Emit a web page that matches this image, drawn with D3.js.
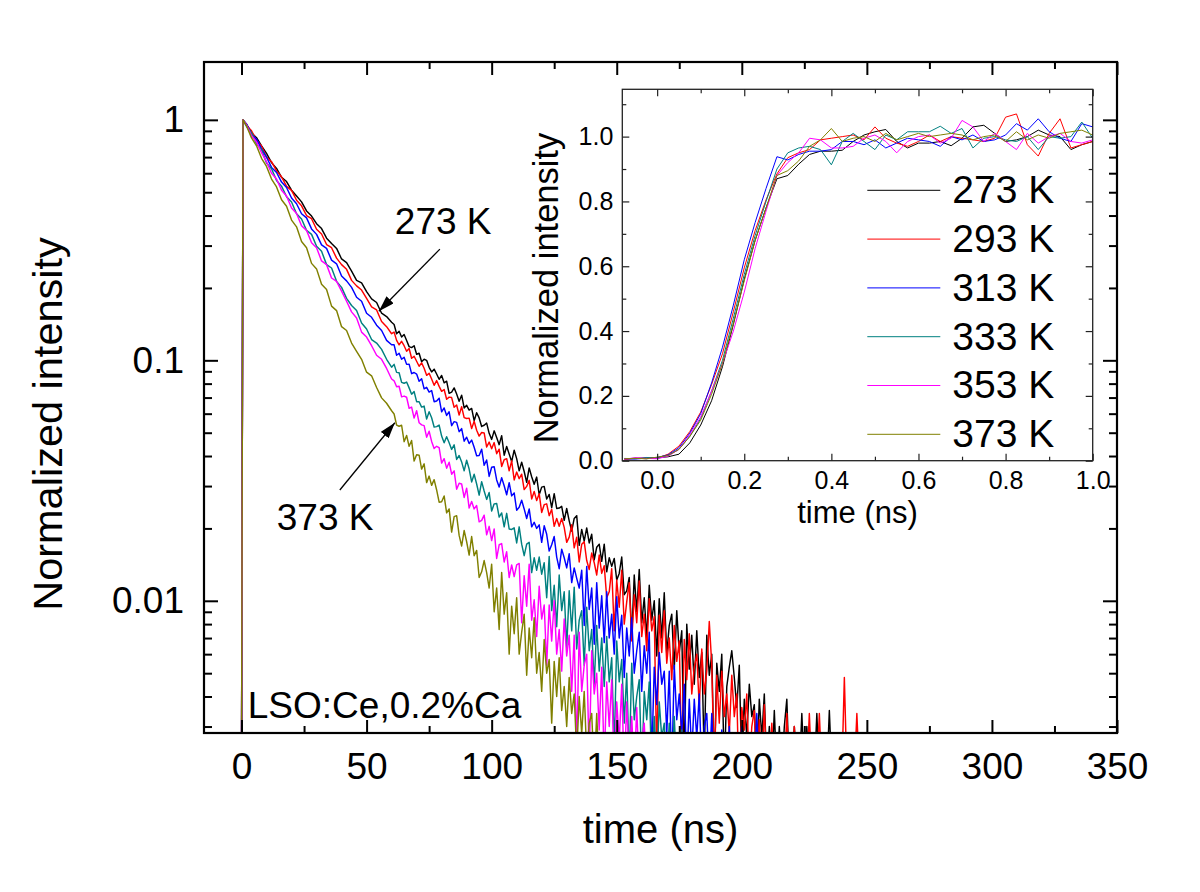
<!DOCTYPE html>
<html><head><meta charset="utf-8">
<script src="https://cdn.jsdelivr.net/npm/d3@7"></script>
<style>body{margin:0;background:#fff}svg{display:block}</style>
</head><body><svg id="c" width="1200" height="892"></svg>
<script>
// ---------------- DATA ----------------
const seriesNames = ["273 K","293 K","313 K","333 K","353 K","373 K"];
const seriesColors = ["#000000","#ff0000","#0000ff","#008080","#ff00ff","#808000"];

// main decay, time axis (ns)
const tMain = [0,0.6,2,4,6,8,10,12,14,16,18,20,22,24,26,28,30,32,34,36,38,40,42,44,46,48,50,52,54,56,58,60,
61,62,63,64,65,66,67,68,69,70, 71,72,73,74,75,76,77,78,79,80, 81,82,83,84,85,86,87,88,89,90,
91,92,93,94,95,96,97,98,99,100, 101,102,103,104,105,106,107,108,109,110, 111,112,113,114,115,116,117,118,119,120,
121,122,123,124,125,126,127,128,129,130, 131,132,133,134,135,136,137,138,139,140, 141,142,143,144,145,146,147,148,149,150,
151,152,153,154,155,156,157,158,159,160, 161,162,163,164,165,166,167,168,169,170, 171,172,173,174,175,176,177,178,179,180,
181,182,183,184,185,186,187,188,189,190, 191,192,193,194,195,196,197,198,199,200, 201,202,203,204,205,206,207,208,209,210,
211,212,213,214,215,216,217,218,219,220, 221,222,223,224,225,226,227,228,229,230, 231,232,233,234,235,236,237,238,239,240,
241,242,243,244,245,246,247];

const k273 = [0,1.0,.959,.882,.843,.780,.725,.664,.628,.577,.554,.510,.482,.456,.418,.398,.370,.353,.322,.306,.292,
.264,.255,.235,.215,.210,.193,.180,.174,.157,.152,.144,
.141,.129,.132,.125,.128,.121,.114,.113,.115,.106,
.107,.0987,.101,.100,.0935,.0895,.0919,.0877,.0834,.0865,
.0806,.0819,.0729,.0738,.0768,.0724,.0676,.0716,.0634,.0650,
.0621,.0631,.0561,.0605,.0576,.0531,.0537,.0548,.0497,.0469,
.0509,.0478,.0446,.0486,.0403,.0438,.0408,.0379,.0423,.0390,
.0347,.0377,.0345,.0311,.0357,.0328,.0305,.0327,.0276,.0297,
.0299,.0265,.0277,.0244,.0279,.0242,.0243,.0247,.0216,.0242,
.0215,.0195,.0220,.0226,.0170,.0198,.0177,.0201,.0174,.0189,
.0148,.0167,.0172,.0146,.0172,.0132,.0151,.0139,.0150,.0122,
.0130,.0152,.0106,.0110,.0125,.0070,.0128,.0090,.0135,.0081,
.0103,.0070,.0116,.0083,.0100,.0059,.0102,.0070,.0108,.0060,
.0079,.0088,.0052,.0091,.0061,.0075,.0021,.0080,.0052,.0072,
.0045,.0075,.0048,.0061,.0022,.0072,.0049,.0060,.0019,.0055,
.0042,.0060,0,.0044,.0053,.0062,.0048,.0036,.0054,.0020,
.0039,.0027,.0045,.0033,.0037,0,.0039,.0027,.0041,0,
.0030,0,.0035,0,.0030,0,.0030,.0039,0,0,
.0030,0,0,.0034,0,.0030,0,0,0,.0034,
0,0,0,0,.0035,0,0,0,0,0];

const k293 = [0,1.0,.947,.900,.822,.779,.700,.670,.613,.580,.529,.509,.463,.439,.400,.388,.351,.335,.303,.294,.266,
.250,.239,.215,.204,.196,.181,.167,.162,.145,.138,.129,
.131,.121,.116,.120,.115,.109,.112,.102,.104,.0991,
.0945,.0976,.0927,.0866,.0884,.0836,.0787,.0824,.0779,.0743,
.0756,.0689,.0703,.0700,.0638,.0652,.0592,.0641,.0578,.0573,
.0575,.0520,.0558,.0512,.0484,.0501,.0499,.0436,.0457,.0429,
.0455,.0409,.0427,.0362,.0386,.0390,.0347,.0382,.0318,.0343,
.0322,.0336,.0290,.0299,.0317,.0265,.0285,.0261,.0279,.0233,
.0251,.0253,.0226,.0240,.0204,.0220,.0204,.0220,.0202,.0175,
.0184,.0207,.0166,.0184,.0145,.0172,.0176,.0147,.0135,.0158,
.0144,.0128,.0155,.0130,.0140,.0103,.0109,.0136,.0075,.0122,
.0094,.0134,.0080,.0099,.0119,.0068,.0106,.0081,.0121,.0071,
.0088,.0062,.0102,.0075,.0086,.0022,.0087,.0061,.0091,.0055,
.0070,.0047,.0079,.0056,.0068,.0021,.0069,.0047,.0073,.0041,
.0053,.0060,.0036,.0063,.0041,.0051,.0082,.0054,0,.0049,
.0031,.0051,.0033,.0041,.0028,.0049,.0033,.0041,.0015,.0036,
.0029,.0041,0,.0030,.0035,0,.0032,0,.0037,0,
0,.0031,0,0,.0027,0,0,.0034,0,0,
.0030,0,0,0,0,0,.0034,0,0,0,
.0034,0,0,0,0,0,0,0,0,0,
.0048,0,0,0,0,.0034,0];

const k313 = [0,1.0,.959,.874,.831,.757,.699,.634,.604,.551,.523,.473,.448,.407,.391,.352,.334,.302,.292,.261,.252,
.224,.214,.201,.183,.176,.157,.151,.140,.133,.121,.116,
.116,.105,.107,.101,.103,.0962,.0964,.0880,.0890,.0877,
.0818,.0839,.0761,.0772,.0738,.0749,.0673,.0677,.0696,.0611,
.0634,.0590,.0611,.0535,.0556,.0552,.0505,.0520,.0461,.0479,
.0451,.0466,.0435,.0401,.0402,.0427,.0366,.0385,.0329,.0359,
.0361,.0318,.0297,.0325,.0301,.0276,.0310,.0273,.0281,.0238,
.0245,.0262,.0241,.0220,.0241,.0203,.0212,.0200,.0207,.0175,
.0205,.0189,.0161,.0171,.0185,.0152,.0136,.0164,.0151,.0137,
.0157,.0119,.0137,.0124,.0113,.0134,.0079,.0139,.0092,.0113,
.0066,.0119,.0077,.0105,.0067,.0109,.0070,.0088,.0060,.0104,
.0070,.0087,.0048,.0077,.0059,.0085,.0050,.0062,.0074,.0042,
.0065,.0050,.0074,.0022,.0053,.0037,.0061,.0045,.0051,.0028,
.0051,0,.0054,.0032,.0041,.0028,.0045,.0020,.0039,.0023,
.0039,.0027,.0041,0,.0030,.0034,0,.0034,0,.0027,
0,.0029,0,0,.0030,0,0,0,0,.0030,
0,0,0,0,0,.0034,0];

const k333 = [0,1.0,.938,.883,.795,.752,.661,.626,.560,.530,.479,.455,.407,.387,.347,.334,.298,.284,.250,.242,.213,
.201,.181,.169,.161,.143,.135,.122,.118,.111,.101,.0936,
.0962,.0891,.0888,.0810,.0803,.0812,.0768,.0723,.0741,.0673,
.0673,.0639,.0645,.0570,.0611,.0577,.0528,.0530,.0538,.0484,
.0454,.0481,.0454,.0426,.0445,.0387,.0402,.0378,.0347,.0384,
.0353,.0312,.0336,.0306,.0275,.0313,.0286,.0264,.0282,.0236,
.0253,.0254,.0223,.0232,.0203,.0231,.0199,.0198,.0201,.0174,
.0203,.0172,.0154,.0172,.0175,.0131,.0151,.0134,.0152,.0129,
.0144,.0103,.0153,.0091,.0116,.0078,.0128,.0091,.0109,.0064,
.0110,.0075,.0114,.0063,.0083,.0091,.0054,.0094,.0062,.0076,
.0045,.0079,.0051,.0070,.0044,.0071,.0046,.0058,.0024,.0068,
.0046,.0057,.0031,.0050,.0021,.0055,.0032,.0040,.0047,0,
.0042,.0032,.0046,0,.0033,0,.0038,.0027,.0031,0,
.0031,0,.0033,0,0,.0029,0,0];

const k353 = [0,1.0,.953,.859,.810,.730,.669,.600,.568,.510,.482,.430,.408,.363,.347,.308,.294,.259,.250,.220,.213,
.194,.176,.159,.150,.131,.125,.115,.105,.101,.0925,.0836,
.0822,.0776,.0780,.0705,.0710,.0702,.0632,.0639,.0575,.0617,
.0550,.0539,.0535,.0479,.0507,.0460,.0430,.0439,.0433,.0374,
.0390,.0356,.0377,.0336,.0347,.0291,.0308,.0306,.0269,.0294,
.0243,.0259,.0241,.0249,.0213,.0216,.0227,.0188,.0204,.0178,
.0199,.0150,.0171,.0173,.0145,.0160,.0125,.0141,.0126,.0141,
.0143,.0081,.0127,.0095,.0142,.0083,.0101,.0071,.0115,.0084,
.0096,.0054,.0096,.0068,.0100,.0060,.0076,.0051,.0084,.0059,
.0072,.0042,.0072,.0024,.0074,.0042,.0054,.0060,.0022,.0062,
.0041,.0050,.0029,.0053,.0021,.0046,.0030,.0047,0,.0038,
.0026,.0045,0,.0038,.0021,.0033,0,.0036,0,.0026,
.0031,0,0,.0027,0,0];

const k373 = [0,1.0,.944,.841,.780,.692,.640,.567,.526,.465,.437,.383,.359,.312,.294,.253,.240,.207,.197,.168,.161,
.138,.133,.118,.109,.101,.0893,.0862,.0771,.0698,.0663,.0617,
.0598,.0538,.0532,.0537,.0459,.0487,.0439,.0464,.0381,.0405,
.0403,.0353,.0371,.0310,.0330,.0302,.0319,.0289,.0257,.0258,
.0273,.0232,.0241,.0193,.0224,.0226,.0187,.0169,.0196,.0176,
.0155,.0185,.0154,.0162,.0125,.0132,.0147,.0131,.0113,.0142,
.0090,.0113,.0076,.0131,.0088,.0108,.0060,.0095,.0073,.0103,
.0060,.0074,.0088,.0049,.0077,.0058,.0085,.0050,.0061,.0042,
.0069,.0050,.0057,.0031,.0056,.0040,.0058,.0035,.0044,.0030,
.0048,.0034,.0041,.0023,.0040,.0028,.0042,.0023,.0031,.0034,
0,.0034,0,.0027,0,0];

// inset rise, time axis (ns)
const tInset = [-0.075,-0.05,-0.025,0,0.025,0.05,0.075,0.1,0.125,0.15,0.175,0.2,0.225,0.25,0.275,0.3,0.325,0.35,0.375,0.4,
0.425,0.45,0.475,0.5,0.525,0.55,0.575,0.6,0.625,0.65,0.675,0.7,0.725,0.75,0.775,0.8,0.825,0.85,0.875,0.9,0.925,0.95,0.975,1.0];
const r273 = [.005,.008,.006,.009,.012,.020,.055,.110,.185,.290,.420,.560,.680,.780,.870,.880,.915,.945,.955,.955,
.958,.985,1.005,1.015,1.022,.985,.965,.980,.980,.985,.972,.995,1.030,1.035,1.010,.985,.990,1.000,1.020,1.005,1.000,.960,.975,.985];
const r293 = [.004,.007,.009,.008,.020,.045,.090,.150,.235,.330,.460,.595,.710,.805,.885,.935,.950,.960,.990,.995,
1.000,1.005,.990,1.030,.995,.980,.970,.985,1.005,.985,1.000,.995,.990,.985,.995,1.060,1.070,.975,.940,1.010,1.055,.965,.975,.985];
const r313 = [.006,.005,.008,.010,.018,.040,.085,.145,.240,.350,.480,.620,.735,.840,.938,.928,.945,.955,.955,.960,
.985,.985,.975,.990,.965,.980,.995,.990,.985,.970,1.000,.990,1.005,.985,.990,1.005,1.040,1.020,1.055,1.015,.995,.985,1.040,1.030];
const r333 = [.007,.006,.010,.007,.015,.035,.075,.130,.215,.310,.440,.575,.695,.800,.900,.950,.965,.970,.960,.913,
.985,1.010,.985,.960,1.005,.990,1.015,1.015,1.015,1.032,1.010,1.025,.965,.995,1.000,.990,.985,1.000,.960,1.000,.995,1.000,1.045,.995];
const r353 = [.005,.009,.007,.006,.014,.035,.080,.135,.215,.300,.400,.520,.655,.770,.880,.920,.950,.995,.990,.965,
.965,.970,.995,1.005,.985,.950,.985,1.000,1.005,.980,.995,1.050,1.030,.985,1.010,.985,.960,1.010,.980,1.000,1.010,.985,.980,.990];
const r373 = [.006,.007,.006,.011,.016,.035,.075,.125,.205,.300,.425,.555,.680,.780,.880,.895,.925,.970,.990,1.025,
.985,.995,1.000,.985,1.010,.990,1.000,1.010,1.000,1.005,1.010,1.005,.990,1.000,1.005,.985,1.015,.990,1.005,.995,1.010,1.015,1.020,1.005];

const mainXMajor = [0,50,100,150,200,250,300,350];
const mainXMinor = [25,75,125,175,225,275,325];
const mainYMajor = [1,0.1,0.01];
const mainYMinor = [0.003,0.004,0.005,0.006,0.007,0.008,0.009,0.02,0.03,0.04,0.05,0.06,0.07,0.08,0.09,0.2,0.3,0.4,0.5,0.6,0.7,0.8,0.9];
const insetXMajor = [0,0.2,0.4,0.6,0.8,1.0];
const insetXMinor = [0.1,0.3,0.5,0.7,0.9];
const insetYMajor = [0,0.2,0.4,0.6,0.8,1.0];
const insetYMinor = [0.1,0.3,0.5,0.7,0.9,1.1];

// annotations in data coordinates [t, intensity]
const annot273 = {label:"273 K", text:[61.3,0.335], from:[79.3,0.290], to:[54.9,0.160]};
const annot373 = {label:"373 K", text:[14.1,0.0197], from:[39.3,0.0289], to:[61.3,0.055]};
const sampleLabel = {label:"LSO:Ce,0.2%Ca", pos:[2.5,0.00326]};

// ---------------- DRAW ----------------
const FONT = '"Liberation Sans", Arial, Helvetica, sans-serif';
const svg = d3.select("#c");
svg.append("rect").attr("width",1200).attr("height",892).attr("fill","#fff");

const M = {l:204, r:1117, t:62, b:733};
const x = d3.scaleLinear().domain([-15, 350]).range([M.l, M.r]);
const y = d3.scaleLog().domain([0.00282, 1.74]).range([M.b, M.t]);
const yv = v => v > 0 ? y(v) : M.b + 40;

const defs = svg.append("defs");
defs.append("clipPath").attr("id","clipMain").append("rect")
  .attr("x",M.l).attr("y",M.t).attr("width",M.r-M.l).attr("height",M.b-M.t);
defs.append("marker").attr("id","ah").attr("viewBox","0 0 16 10").attr("refX",16).attr("refY",5)
  .attr("markerWidth",16).attr("markerHeight",10).attr("markerUnits","userSpaceOnUse").attr("orient","auto")
  .append("path").attr("d","M0,0 L16,5 L0,10 Z").attr("fill","#000");

const mainSeries = [k273,k293,k313,k333,k353,k373];
const lineMain = d3.line().x(d=>x(d[0])).y(d=>yv(d[1]));
const gLines = svg.append("g").attr("clip-path","url(#clipMain)");
mainSeries.forEach((vals,i)=>{
  const pts = vals.map((v,j)=>[tMain[j], v]);
  gLines.append("path").attr("d",lineMain(pts)).attr("fill","none")
    .attr("stroke",seriesColors[i]).attr("stroke-width",1.45).attr("stroke-linejoin","round");
});

function styleAxis(g, fs, sw){
  g.select(".domain").remove();
  g.attr("font-family",FONT);
  g.selectAll(".tick line").attr("stroke","#000").attr("stroke-width",sw);
  g.selectAll(".tick text").attr("font-size",fs).attr("fill","#000").attr("font-family",FONT);
}
const none = () => "";
// main axes
styleAxis(svg.append("g").attr("transform",`translate(0,${M.b})`)
  .call(d3.axisBottom(x).tickValues(mainXMajor).tickSize(-13).tickPadding(20).tickFormat(d3.format("d"))),37,2);
styleAxis(svg.append("g").attr("transform",`translate(0,${M.b})`)
  .call(d3.axisBottom(x).tickValues(mainXMinor).tickSize(-7).tickFormat(none)),37,2);
styleAxis(svg.append("g").attr("transform",`translate(0,${M.t})`)
  .call(d3.axisTop(x).tickValues(mainXMajor).tickSize(-13).tickFormat(none)),37,2);
styleAxis(svg.append("g").attr("transform",`translate(0,${M.t})`)
  .call(d3.axisTop(x).tickValues(mainXMinor).tickSize(-7).tickFormat(none)),37,2);
styleAxis(svg.append("g").attr("transform",`translate(${M.l},0)`)
  .call(d3.axisLeft(y).tickValues(mainYMajor).tickSize(-14).tickPadding(20).tickFormat(d=>String(d))),37,2);
styleAxis(svg.append("g").attr("transform",`translate(${M.l},0)`)
  .call(d3.axisLeft(y).tickValues(mainYMinor).tickSize(-8).tickFormat(none)),37,2);
styleAxis(svg.append("g").attr("transform",`translate(${M.r},0)`)
  .call(d3.axisRight(y).tickValues(mainYMajor).tickSize(-14).tickFormat(none)),37,2);
styleAxis(svg.append("g").attr("transform",`translate(${M.r},0)`)
  .call(d3.axisRight(y).tickValues(mainYMinor).tickSize(-8).tickFormat(none)),37,2);

svg.append("rect").attr("x",M.l).attr("y",M.t).attr("width",M.r-M.l).attr("height",M.b-M.t)
  .attr("fill","none").attr("stroke","#000").attr("stroke-width",2.2);

// titles
svg.append("text").attr("x",(M.l+M.r)/2).attr("y",843).attr("text-anchor","middle")
  .attr("font-family",FONT).attr("font-size",40).text("time (ns)");
svg.append("text").attr("transform",`translate(62,424) rotate(-90)`).attr("text-anchor","middle")
  .attr("font-family",FONT).attr("font-size",41.5).text("Normalized intensity");

// annotations
[annot273, annot373].forEach(a=>{
  svg.append("text").attr("x",x(a.text[0])).attr("y",y(a.text[1])).attr("font-family",FONT)
    .attr("font-size",37).text(a.label);
  svg.append("line").attr("x1",x(a.from[0])).attr("y1",y(a.from[1])).attr("x2",x(a.to[0])).attr("y2",y(a.to[1]))
    .attr("stroke","#000").attr("stroke-width",1.3).attr("marker-end","url(#ah)");
});
svg.append("text").attr("x",x(sampleLabel.pos[0])).attr("y",y(sampleLabel.pos[1])).attr("font-family",FONT)
  .attr("font-size",37).text(sampleLabel.label);

// ---------------- INSET ----------------
const I = {l:622.3, r:1092.7, t:89.3, b:460.7};
const ix = d3.scaleLinear().domain([-0.08,1.0]).range([I.l,I.r]);
const iy = d3.scaleLinear().domain([0,1.146]).range([I.b,I.t]);
svg.append("rect").attr("x",I.l).attr("y",I.t).attr("width",I.r-I.l).attr("height",I.b-I.t).attr("fill","#fff");
defs.append("clipPath").attr("id","clipInset").append("rect")
  .attr("x",I.l).attr("y",I.t).attr("width",I.r-I.l).attr("height",I.b-I.t);
const insetSeries = [r273,r293,r313,r333,r353,r373];
const lineInset = d3.line().x(d=>ix(d[0])).y(d=>iy(d[1]));
const gIn = svg.append("g").attr("clip-path","url(#clipInset)");
insetSeries.forEach((vals,i)=>{
  gIn.append("path").attr("d",lineInset(vals.map((v,j)=>[tInset[j],v]))).attr("fill","none")
    .attr("stroke",seriesColors[i]).attr("stroke-width",1);
});
const IC = "#222";
function styleIn(g){ styleAxis(g,25,1.2); g.selectAll(".tick line").attr("stroke",IC); }
styleIn(svg.append("g").attr("transform",`translate(0,${I.b})`)
  .call(d3.axisBottom(ix).tickValues(insetXMajor).tickSize(-7).tickPadding(11).tickFormat(d3.format(".1f"))));
styleIn(svg.append("g").attr("transform",`translate(0,${I.b})`)
  .call(d3.axisBottom(ix).tickValues(insetXMinor).tickSize(-4).tickFormat(none)));
styleIn(svg.append("g").attr("transform",`translate(0,${I.t})`)
  .call(d3.axisTop(ix).tickValues(insetXMajor).tickSize(-7).tickFormat(none)));
styleIn(svg.append("g").attr("transform",`translate(0,${I.t})`)
  .call(d3.axisTop(ix).tickValues(insetXMinor).tickSize(-4).tickFormat(none)));
styleIn(svg.append("g").attr("transform",`translate(${I.l},0)`)
  .call(d3.axisLeft(iy).tickValues(insetYMajor).tickSize(-7).tickPadding(9).tickFormat(d3.format(".1f"))));
styleIn(svg.append("g").attr("transform",`translate(${I.l},0)`)
  .call(d3.axisLeft(iy).tickValues(insetYMinor).tickSize(-4).tickFormat(none)));
styleIn(svg.append("g").attr("transform",`translate(${I.r},0)`)
  .call(d3.axisRight(iy).tickValues(insetYMajor).tickSize(-7).tickFormat(none)));
styleIn(svg.append("g").attr("transform",`translate(${I.r},0)`)
  .call(d3.axisRight(iy).tickValues(insetYMinor).tickSize(-4).tickFormat(none)));
svg.append("rect").attr("x",I.l).attr("y",I.t).attr("width",I.r-I.l).attr("height",I.b-I.t)
  .attr("fill","none").attr("stroke",IC).attr("stroke-width",1.3);

svg.append("text").attr("x",(I.l+I.r)/2).attr("y",523).attr("text-anchor","middle")
  .attr("font-family",FONT).attr("font-size",31).text("time (ns)");
svg.append("text").attr("transform",`translate(558,288) rotate(-90)`).attr("text-anchor","middle")
  .attr("font-family",FONT).attr("font-size",34.5).text("Normalized intensity");

// legend
const lg = svg.append("g").attr("transform",`translate(${I.l+245},${I.t+101})`);
seriesNames.forEach((nm,i)=>{
  const yy = i*48.8;
  lg.append("line").attr("x1",0).attr("x2",73).attr("y1",yy).attr("y2",yy)
    .attr("stroke",seriesColors[i]).attr("stroke-width",1);
  lg.append("text").attr("x",85).attr("y",yy+13).attr("font-family",FONT).attr("font-size",39).text(nm);
});
</script>
</body></html>
